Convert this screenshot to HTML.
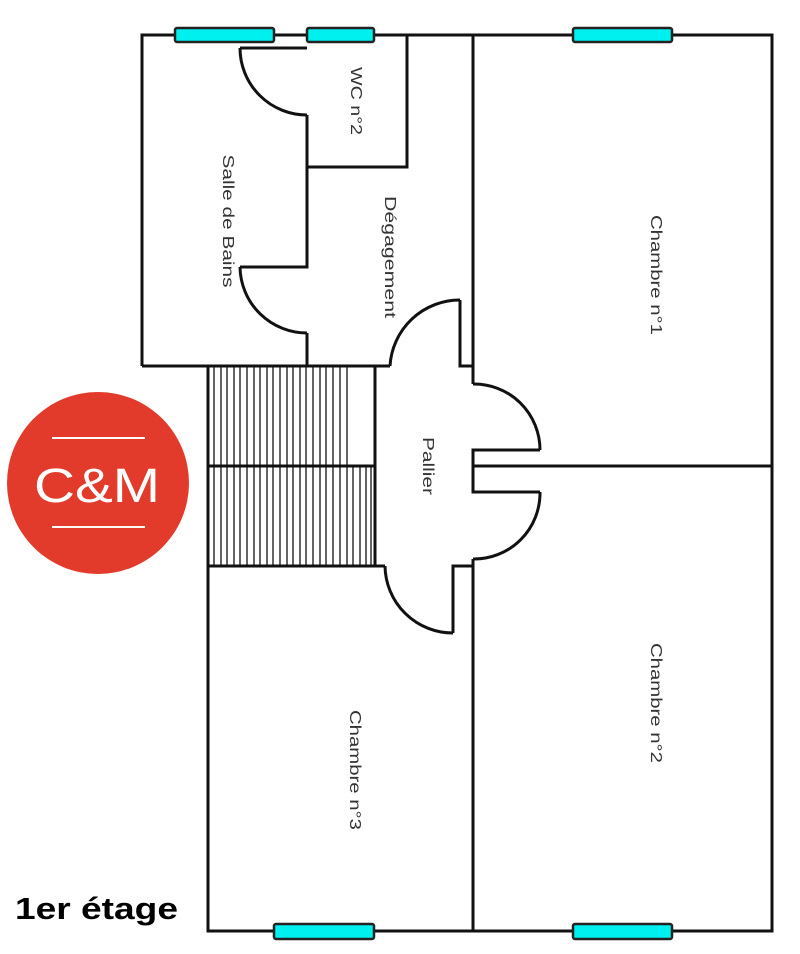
<!DOCTYPE html>
<html><head><meta charset="utf-8"><style>
html,body{margin:0;padding:0;background:#fff;}
svg{display:block;}
text{font-family:"Liberation Sans",sans-serif;}
</style></head><body>
<svg width="800" height="954" viewBox="0 0 800 954" xmlns="http://www.w3.org/2000/svg">
<g fill="none" stroke="#111" stroke-width="3" stroke-linejoin="miter">
<polyline points="142,366 142,35 772,35 772,931 208,931 208,566"/>
<line x1="142" y1="366" x2="390" y2="366"/>
<line x1="240" y1="48" x2="307" y2="48"/>
<path d="M240,48 A67,67 0 0 0 307,115"/>
<polyline points="307,115 307,267 240,267"/>
<path d="M240,267 A67,67 0 0 0 307,333"/>
<line x1="307" y1="333" x2="307" y2="366"/>
<polyline points="307,167 407,167 407,35"/>
<polyline points="473,35 473,366 460,366 460,300"/>
<path d="M390,366 A70,70 0 0 1 460,300"/>
<line x1="473" y1="366" x2="473" y2="384"/>
<path d="M473,384 A66,66 0 0 1 540,450"/>
<polyline points="540,450 473,450 473,492 540,492"/>
<path d="M540,492 A66,66 0 0 1 473,559"/>
<line x1="473" y1="466" x2="772" y2="466"/>
<polyline points="208,366 208,566 385,566"/>
<line x1="375" y1="366" x2="375" y2="566"/>
<line x1="208" y1="466" x2="375" y2="466"/>
<path d="M385,566 A68,68 0 0 0 453,633"/>
<polyline points="453,633 453,566 473,566 473,931"/>
<line x1="473" y1="559" x2="473" y2="566"/>
</g>
<g stroke="#111" stroke-width="1.3">
<line x1="214" y1="366" x2="214" y2="466"/><line x1="221" y1="366" x2="221" y2="466"/><line x1="227" y1="366" x2="227" y2="466"/><line x1="234" y1="366" x2="234" y2="466"/><line x1="240" y1="366" x2="240" y2="466"/><line x1="247" y1="366" x2="247" y2="466"/><line x1="254" y1="366" x2="254" y2="466"/><line x1="260" y1="366" x2="260" y2="466"/><line x1="267" y1="366" x2="267" y2="466"/><line x1="273" y1="366" x2="273" y2="466"/><line x1="280" y1="366" x2="280" y2="466"/><line x1="287" y1="366" x2="287" y2="466"/><line x1="293" y1="366" x2="293" y2="466"/><line x1="300" y1="366" x2="300" y2="466"/><line x1="306" y1="366" x2="306" y2="466"/><line x1="313" y1="366" x2="313" y2="466"/><line x1="320" y1="366" x2="320" y2="466"/><line x1="326" y1="366" x2="326" y2="466"/><line x1="333" y1="366" x2="333" y2="466"/><line x1="340" y1="366" x2="340" y2="466"/><line x1="347" y1="366" x2="347" y2="466"/>
<line x1="214" y1="466" x2="214" y2="566"/><line x1="221" y1="466" x2="221" y2="566"/><line x1="227" y1="466" x2="227" y2="566"/><line x1="234" y1="466" x2="234" y2="566"/><line x1="240" y1="466" x2="240" y2="566"/><line x1="247" y1="466" x2="247" y2="566"/><line x1="254" y1="466" x2="254" y2="566"/><line x1="260" y1="466" x2="260" y2="566"/><line x1="267" y1="466" x2="267" y2="566"/><line x1="273" y1="466" x2="273" y2="566"/><line x1="280" y1="466" x2="280" y2="566"/><line x1="287" y1="466" x2="287" y2="566"/><line x1="293" y1="466" x2="293" y2="566"/><line x1="300" y1="466" x2="300" y2="566"/><line x1="306" y1="466" x2="306" y2="566"/><line x1="313" y1="466" x2="313" y2="566"/><line x1="320" y1="466" x2="320" y2="566"/><line x1="326" y1="466" x2="326" y2="566"/><line x1="333" y1="466" x2="333" y2="566"/><line x1="340" y1="466" x2="340" y2="566"/><line x1="347" y1="466" x2="347" y2="566"/><line x1="353" y1="466" x2="353" y2="566"/><line x1="360" y1="466" x2="360" y2="566"/><line x1="366" y1="466" x2="366" y2="566"/><line x1="371" y1="466" x2="371" y2="566"/>
</g>
<g fill="#00f0f0" stroke="#222" stroke-width="2.5">
<rect x="175" y="28" width="99" height="14" rx="2"/>
<rect x="307" y="28" width="67" height="14" rx="2"/>
<rect x="573" y="28" width="99" height="14" rx="2"/>
<rect x="274" y="924" width="100" height="15" rx="2"/>
<rect x="573" y="924" width="99" height="15" rx="2"/>
</g>
<g font-size="16" fill="#333" text-anchor="middle" lengthAdjust="spacingAndGlyphs">
<text transform="translate(223,221) rotate(90)" textLength="133" lengthAdjust="spacingAndGlyphs">Salle de Bains</text>
<text transform="translate(351,101) rotate(90)" textLength="68" lengthAdjust="spacingAndGlyphs">WC n°2</text>
<text transform="translate(385,257) rotate(90)" textLength="122" lengthAdjust="spacingAndGlyphs">Dégagement</text>
<text transform="translate(651,275) rotate(90)" textLength="120" lengthAdjust="spacingAndGlyphs">Chambre n°1</text>
<text transform="translate(423,466) rotate(90)" textLength="58" lengthAdjust="spacingAndGlyphs">Pallier</text>
<text transform="translate(651,703) rotate(90)" textLength="120" lengthAdjust="spacingAndGlyphs">Chambre n°2</text>
<text transform="translate(350,770) rotate(90)" textLength="120" lengthAdjust="spacingAndGlyphs">Chambre n°3</text>
</g>
<circle cx="98" cy="483" r="91" fill="#e23b2c"/>
<line x1="52" y1="438" x2="145" y2="438" stroke="#fff" stroke-width="2"/>
<line x1="52" y1="527" x2="145" y2="527" stroke="#fff" stroke-width="2"/>
<text x="34" y="502" font-size="48" fill="#fff" textLength="126" lengthAdjust="spacingAndGlyphs">C&amp;M</text>
<text x="15" y="919" font-size="31" font-weight="bold" fill="#000" textLength="163" lengthAdjust="spacingAndGlyphs">1er étage</text>
</svg>
</body></html>
